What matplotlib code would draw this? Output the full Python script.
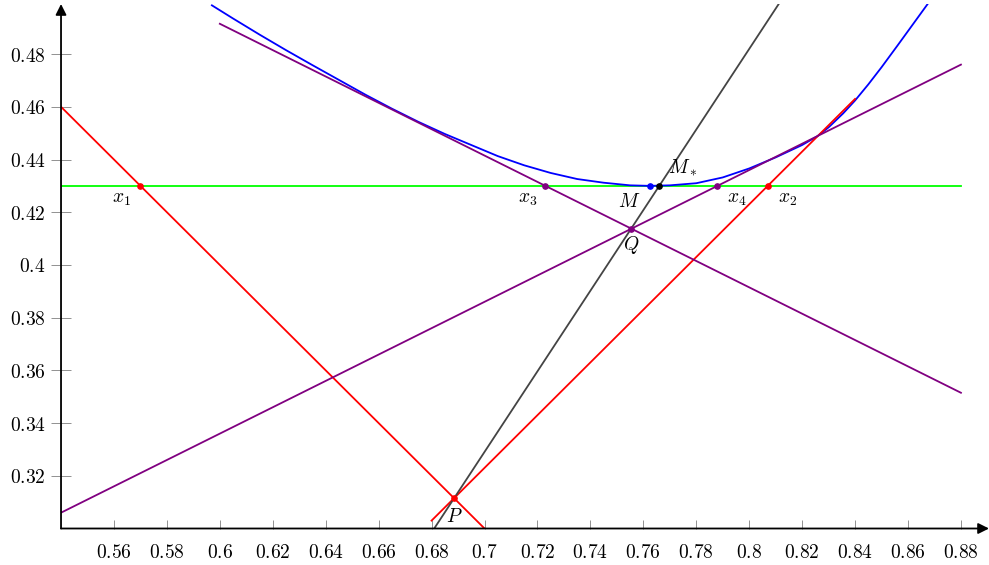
import numpy as np
import matplotlib
matplotlib.use("Agg")
import matplotlib.pyplot as plt

plt.rcParams['mathtext.fontset'] = 'cm'

# curve
curve_x = [0.597, 0.605, 0.615, 0.625, 0.635, 0.645, 0.655, 0.665, 0.675, 0.685,
           0.695, 0.705, 0.715, 0.725, 0.735, 0.745, 0.755, 0.7625, 0.770, 0.780,
           0.790, 0.800, 0.810, 0.820, 0.8257, 0.830, 0.8355, 0.840, 0.845, 0.850,
           0.856, 0.862, 0.8685]
curve_y = [0.4985, 0.4935, 0.4874, 0.4815, 0.4758, 0.4702, 0.4646, 0.4593, 0.4543, 0.4497,
           0.4455, 0.4413, 0.4378, 0.4349, 0.4326, 0.4312, 0.4302, 0.4300, 0.4302, 0.4310,
           0.4332, 0.4366, 0.4408, 0.4455, 0.4488, 0.4522, 0.4575, 0.4624, 0.4685, 0.4750,
           0.4832, 0.4915, 0.5005]

# straight lines: (x0, y0, x1, y1)
green_line = (0.54, 0.43, 0.88, 0.43)
red_lines = [(0.54, 0.46, 0.70, 0.30), (0.68, 0.303, 0.84, 0.463)]
purple_lines = [(0.60, 0.4915, 0.88, 0.3515), (0.54, 0.306, 0.88, 0.476)]
gray_line = (0.681, 0.30, 0.812, 0.5003)

# marked points
red_pts_x = [0.57, 0.807, 0.6885]
red_pts_y = [0.43, 0.43, 0.3115]
purple_pts_x = [0.723, 0.788, 0.7555]
purple_pts_y = [0.43, 0.43, 0.4137]
M = (0.7625, 0.43)
M_star = (0.766, 0.43)

# labels: text, point, offset in points
labels = [(r'$x_1$', (0.57, 0.43), (-14, -9)),
          (r'$x_3$', (0.723, 0.43), (-13, -9)),
          (r'$x_4$', (0.788, 0.43), (14, -9)),
          (r'$x_2$', (0.807, 0.43), (14, -9)),
          (r'$M$', (0.7625, 0.43), (-15, -11)),
          (r'$M_*$', (0.766, 0.43), (17, 13)),
          (r'$Q$', (0.7555, 0.4137), (0, -12)),
          (r'$P$', (0.6885, 0.3115), (0, -13))]

xticks = [0.56, 0.58, 0.60, 0.62, 0.64, 0.66, 0.68, 0.70, 0.72, 0.74, 0.76, 0.78,
          0.80, 0.82, 0.84, 0.86, 0.88]
xticklabels = ['0.56', '0.58', '0.6', '0.62', '0.64', '0.66', '0.68', '0.7', '0.72',
               '0.74', '0.76', '0.78', '0.8', '0.82', '0.84', '0.86', '0.88']
yticks = [0.32, 0.34, 0.36, 0.38, 0.40, 0.42, 0.44, 0.46, 0.48]
yticklabels = ['0.32', '0.34', '0.36', '0.38', '0.4', '0.42', '0.44', '0.46', '0.48']

fig = plt.figure(figsize=(9.89, 5.65), dpi=100)
ax = fig.add_axes([0.0617, 0.0646, 0.9383, 0.9283])
ax.set_xlim(0.54, 0.8906)
ax.set_ylim(0.30, 0.499)

lw = 1.3
ax.plot(curve_x, curve_y, color='#0000ff', lw=lw, zorder=3)
ax.plot(green_line[::2], green_line[1::2], color='#00ff00', lw=lw, zorder=2)
for ln in red_lines:
    ax.plot(ln[::2], ln[1::2], color='#ff0000', lw=lw, zorder=3)
for ln in purple_lines:
    ax.plot(ln[::2], ln[1::2], color='#800080', lw=lw, zorder=3)
ax.plot(gray_line[::2], gray_line[1::2], color='#444444', lw=lw, zorder=3)

ax.plot(red_pts_x, red_pts_y, 'o', color='#ff0000', ms=3.8, zorder=5)
ax.plot(purple_pts_x, purple_pts_y, 'o', color='#800080', ms=3.8, zorder=5)
ax.plot(*M, 'o', color='#0000ff', ms=3.8, zorder=5)
ax.plot(*M_star, 'o', color='black', ms=3.8, zorder=5)

for txt, pt, off in labels:
    ax.annotate(txt, xy=pt, xytext=off, textcoords='offset points',
                ha='center', va='center', fontsize=14)

for s in ax.spines.values():
    s.set_visible(False)

ax.set_xticks(xticks)
ax.set_xticklabels(['$' + s + '$' for s in xticklabels], fontsize=14)
ax.set_yticks(yticks)
ax.set_yticklabels(['$' + s + '$' for s in yticklabels], fontsize=14)
ax.tick_params(axis='x', direction='in', length=6.5, width=0.6, color='#808080', pad=10.5)
ax.tick_params(axis='y', direction='inout', length=14, width=0.6, color='#808080', pad=4)

arrow = dict(arrowstyle='-|>', color='black', lw=1.3, mutation_scale=16,
             shrinkA=0, shrinkB=0)
ax.annotate('', xy=(1.0, 0), xytext=(0, 0), xycoords='axes fraction',
            arrowprops=arrow, annotation_clip=False)
ax.annotate('', xy=(0, 1.0), xytext=(0, 0), xycoords='axes fraction',
            arrowprops=arrow, annotation_clip=False)

fig.savefig('out.png', dpi=100)
